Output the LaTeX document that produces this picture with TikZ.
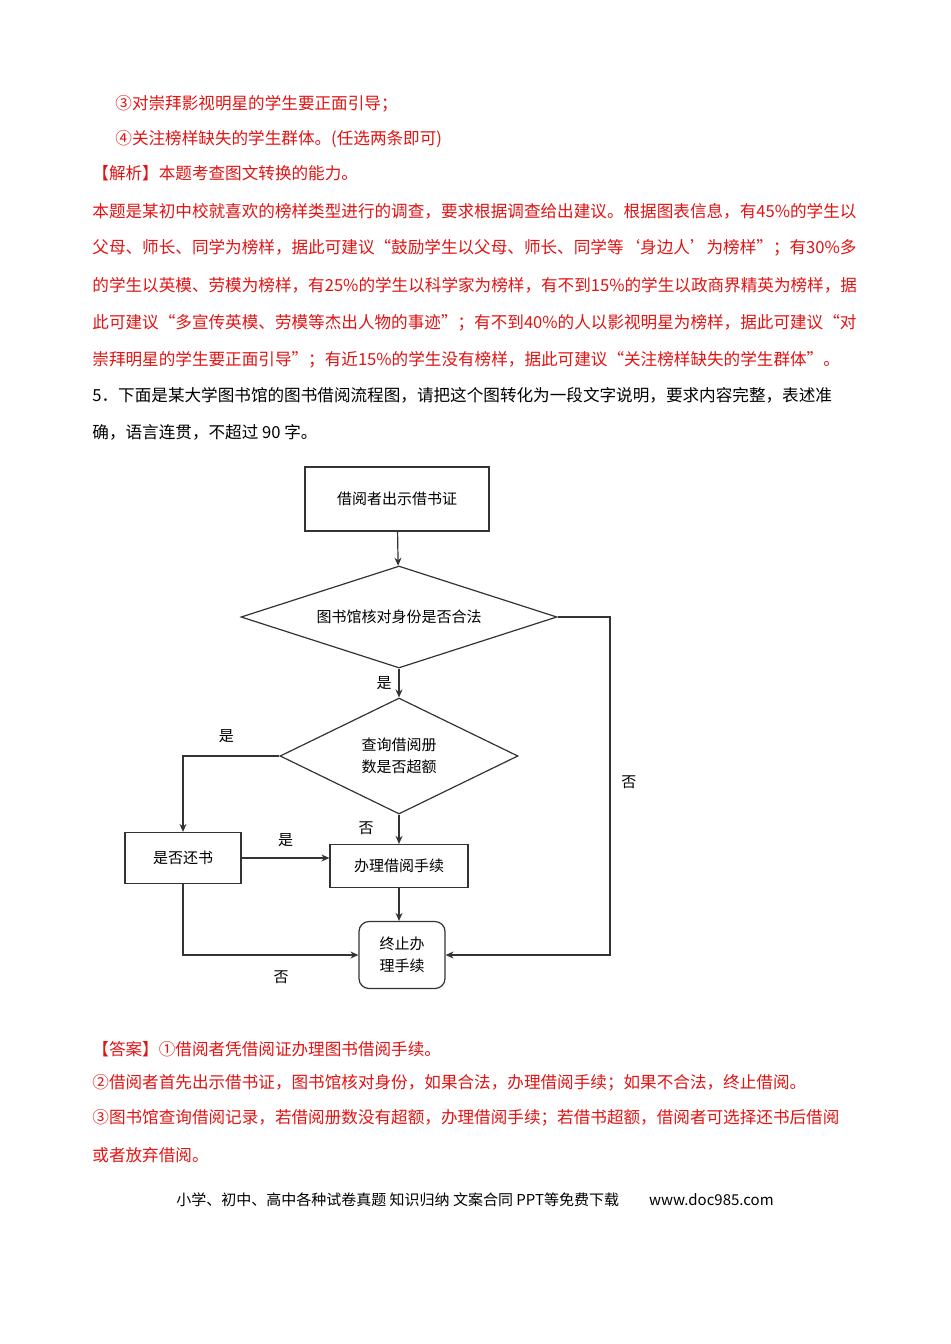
\documentclass[tikz,border=0pt]{standalone}
\usepackage{fontspec}
\setmainfont{Noto Sans CJK SC}
\usetikzlibrary{shapes.geometric,arrows.meta}
\definecolor{ansred}{RGB}{225,20,20}
\tikzset{
  line/.style={draw=black!80,line width=0.6pt},
  arr/.style={line,-{Stealth[length=4pt,width=3.5pt]}},
  boxnode/.style={draw=black!80,line width=0.6pt,font=\fontsize{7.5}{9}\selectfont,align=center,inner sep=0pt},
  decide/.style={diamond,boxnode,aspect=1},
  lbl/.style={font=\fontsize{7.5}{9}\selectfont},
  txt/.style={anchor=west,font=\fontsize{8.3}{10}\selectfont,inner sep=0pt},
  red txt/.style={txt,text=ansred}
}
\begin{document}
\begin{tikzpicture}[x=0.5pt,y=-0.5pt]
    \useasboundingbox[fill=white] (0,0) rectangle (950,1344);
    % text above
    \node[red txt] (t1) at (115,104) {③对崇拜影视明星的学生要正面引导；};
    \node[red txt] (t2) at (115,139) {④关注榜样缺失的学生群体。(任选两条即可)};
    \node[red txt] (t3) at (92,173) {【解析】本题考查图文转换的能力。};
    \node[red txt] (t4) at (92,211) {本题是某初中校就喜欢的榜样类型进行的调查，要求根据调查给出建议。根据图表信息，有45\%的学生以};
    \node[red txt] (t5) at (92,248) {父母、师长、同学为榜样，据此可建议“鼓励学生以父母、师长、同学等‘身边人’为榜样”；有30\%多};
    \node[red txt] (t6) at (92,285) {的学生以英模、劳模为榜样，有25\%的学生以科学家为榜样，有不到15\%的学生以政商界精英为榜样，据};
    \node[red txt] (t7) at (92,323) {此可建议“多宣传英模、劳模等杰出人物的事迹”；有不到40\%的人以影视明星为榜样，据此可建议“对};
    \node[red txt] (t8) at (92,360) {崇拜明星的学生要正面引导”；有近15\%的学生没有榜样，据此可建议“关注榜样缺失的学生群体”。};
    \node[txt] (q1) at (92,395) {5．下面是某大学图书馆的图书借阅流程图，请把这个图转化为一段文字说明，要求内容完整，表述准};
    \node[txt] (q2) at (92,432) {确，语言连贯，不超过 90 字。};
    % flowchart
    \node[boxnode,minimum width=92pt,minimum height=32pt] (show) at (397,499) {借阅者出示借书证};
    \node[decide,minimum width=158pt,minimum height=51pt,aspect=3.1] (legal) at (399,617) {图书馆核对身份是否合法};
    \node[decide,minimum width=119pt,minimum height=58pt,aspect=2.05] (limit) at (399,756) {查询借阅册\\[2pt]数是否超额};
    \node[boxnode,minimum width=58pt,minimum height=25.5pt] (ret) at (183,858) {是否还书};
    \node[boxnode,minimum width=69pt,minimum height=21.5pt] (lend) at (399,866) {办理借阅手续};
    \node[boxnode,rounded corners=5pt,minimum width=43pt,minimum height=33.5pt] (stop) at (402,955) {终止办\\[2pt]理手续};
    \coordinate (rr) at (610,617);
    \coordinate (ll) at (183,756);
    \draw[arr] (show) -- (legal);
    \draw[arr] (legal) -- node[lbl,left=0pt,pos=0.5] {是} (limit);
    \draw[arr] (limit) -- node[lbl,left=9pt,pos=0.45] {否} (lend);
    \draw[arr] (limit.west) -- (ll) node[lbl,pos=0.55,above=3pt] {是} -- (ret);
    \draw[arr] (ret) -- node[lbl,above=2pt] {是} (ret -| lend.west);
    \draw[arr] (lend.south) -- (lend.south |- stop.north);
    \draw[arr] (legal.east) -- (rr) -- node[lbl,right=2pt,pos=0.49] {否} (rr |- stop) -- (stop);
    \draw[arr] (ret) -- (ret |- stop) -- node[lbl,below=4pt,pos=0.56] {否} (stop);
    % answer
    \node[red txt] (a1) at (92,1049) {【答案】①借阅者凭借阅证办理图书借阅手续。};
    \node[red txt] (a2) at (92,1083) {②借阅者首先出示借书证，图书馆核对身份，如果合法，办理借阅手续；如果不合法，终止借阅。};
    \node[red txt] (a3) at (92,1118) {③图书馆查询借阅记录，若借阅册数没有超额，办理借阅手续；若借书超额，借阅者可选择还书后借阅};
    \node[red txt] (a4) at (92,1155) {或者放弃借阅。};
    \node[font=\fontsize{7.5}{9}\selectfont,inner sep=0pt] (foot) at (475,1200) {小学、初中、高中各种试卷真题\ 知识归纳\ 文案合同\ PPT等免费下载\qquad www.doc985.com};
\end{tikzpicture}
\end{document}
